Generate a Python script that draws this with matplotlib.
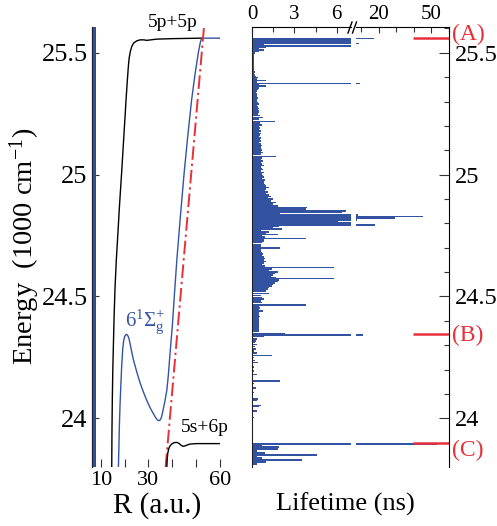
import matplotlib
matplotlib.use("Agg")
import matplotlib.pyplot as plt
from matplotlib.lines import Line2D

plt.rcParams['font.family'] = ['Liberation Serif', 'DejaVu Serif']
plt.rcParams['mathtext.fontset'] = 'custom'
plt.rcParams['mathtext.rm'] = 'Liberation Serif'
plt.rcParams['mathtext.it'] = 'Liberation Serif:italic'
plt.rcParams['mathtext.bf'] = 'Liberation Serif:bold'

# ---------------- data: potential curves (left panel) ----------------
pp_R = [14.6, 14.7, 14.85, 15.05, 15.3, 15.6, 16.0, 16.54, 17.2, 17.9, 18.7, 19.2, 19.77, 20.2, 20.6,
        21.1, 21.57, 21.9, 22.4, 23.0, 23.8, 25.1, 26.5, 28.0, 29.3, 31.0, 33.5, 40.4, 52.3]
pp_E = [23.80, 23.95, 24.08, 24.20, 24.30, 24.42, 24.54, 24.652, 24.762, 24.88, 25.0, 25.08, 25.172, 25.24,
        25.307, 25.38, 25.444, 25.478, 25.505, 25.526, 25.540, 25.549, 25.553, 25.553, 25.551, 25.553,
        25.556, 25.558, 25.56]

sig_R = [17.4, 17.6, 17.8, 18.1, 18.4, 18.8, 19.2, 19.6, 20.0, 20.5, 20.9, 21.4, 21.8, 22.3, 23.0, 23.7,
         24.4, 25.1, 26.5, 27.9, 29.3, 30.7, 32.0, 33.0, 33.8, 34.4, 34.9, 35.4, 35.8, 36.2, 36.9, 37.7,
         38.3, 39.0, 40.0, 40.9, 41.9, 43.4, 44.9, 46.5, 48.1, 49.5, 50.9, 51.7, 52.3, 60.0]
sig_E = [23.80, 23.88, 23.968, 24.06, 24.132, 24.22, 24.283, 24.318, 24.335, 24.343, 24.344, 24.338,
         24.328, 24.306, 24.272, 24.24, 24.215, 24.19, 24.145, 24.107, 24.073, 24.043, 24.02, 24.003,
         23.993, 23.99, 23.993, 24.003, 24.018, 24.037, 24.07, 24.115, 24.173, 24.26, 24.378, 24.51,
         24.65, 24.83, 25.0, 25.16, 25.307, 25.41, 25.5, 25.54, 25.56, 25.56]

asym_R = [37.2, 53.3]
asym_E = [23.80, 25.607]

sp_R = [37.7, 37.85, 38.1, 38.5, 39.0, 39.8, 40.8, 41.9, 42.8, 43.7, 44.6, 45.5, 46.4, 47.4, 50.0, 60.0]
sp_E = [23.80, 23.83, 23.857, 23.875, 23.886, 23.895, 23.90, 23.901, 23.897, 23.889, 23.885, 23.887,
        23.891, 23.894, 23.896, 23.896]

# ---------------- data: lifetimes (right panel) ----------------
energy = [25.559, 25.556, 25.552, 25.549, 25.545, 25.541, 25.538, 25.533, 25.527, 25.523, 25.517, 25.511, 25.505,
          25.498, 25.492, 25.486, 25.480, 25.474, 25.468, 25.462, 25.456, 25.450, 25.444, 25.438, 25.432, 25.426,
          25.420, 25.414, 25.408, 25.402, 25.398, 25.392, 25.387, 25.380, 25.374, 25.368, 25.363, 25.356, 25.350,
          25.344, 25.338, 25.332, 25.326, 25.320, 25.314, 25.308, 25.302, 25.296, 25.290, 25.284, 25.278, 25.272,
          25.266, 25.260, 25.254, 25.248, 25.242, 25.234, 25.228, 25.217, 25.211, 25.204,
          25.198, 25.192, 25.186, 25.180, 25.174, 25.168, 25.162, 25.156, 25.150, 25.144, 25.138, 25.132, 25.126,
          25.120, 25.114, 25.108, 25.102, 25.096, 25.090, 25.084, 25.074,
          25.068, 25.062, 25.056, 25.050, 25.044, 25.038, 25.032, 25.026, 25.020, 25.014, 25.008, 25.002, 24.996,
          24.990, 24.984, 24.978, 24.972, 24.966, 24.960, 24.954, 24.947,
          24.941, 24.935, 24.929, 24.923, 24.917, 24.911, 24.905,
          24.899, 24.892, 24.885, 24.879, 24.872, 24.865, 24.858, 24.851, 24.844, 24.840, 24.835, 24.831, 24.828,
          24.824, 24.821, 24.817, 24.813, 24.810, 24.807, 24.802, 24.798, 24.794, 24.790, 24.783, 24.776, 24.769,
          24.764, 24.759, 24.755, 24.749, 24.744, 24.738, 24.733, 24.728, 24.721, 24.714, 24.708, 24.703, 24.698,
          24.692, 24.686, 24.680, 24.674, 24.668, 24.662, 24.656, 24.650, 24.644, 24.638, 24.632, 24.626, 24.619,
          24.613, 24.607, 24.600, 24.594, 24.588, 24.582, 24.577, 24.573,
          24.567, 24.561, 24.555, 24.549, 24.543, 24.537, 24.530, 24.523, 24.512, 24.503, 24.496, 24.489, 24.482,
          24.475, 24.464, 24.458, 24.452, 24.446, 24.441, 24.435, 24.429, 24.423, 24.417, 24.411, 24.405, 24.399,
          24.393, 24.387, 24.381, 24.375, 24.369, 24.363, 24.357, 24.348, 24.341, 24.335, 24.325,
          24.318, 24.310, 24.302, 24.294, 24.285, 24.277, 24.268, 24.257, 24.249, 24.238, 24.229, 24.210, 24.195,
          24.179, 24.154, 24.142, 24.125, 24.105, 24.079, 24.074, 24.052, 24.048, 24.029, 24.004,
          23.895, 23.888, 23.881, 23.874, 23.865, 23.858, 23.850, 23.845, 23.836, 23.829, 23.820, 23.813]
lifetime = [17.4, 7.0, 7.0, 7.0, 5.6, 7.0, 8.5, 0.8, 7.0, 1.0, 0.5, 0.8, 0.5,
            0.2, 0.15, 0.1, 0.12, 0.1, 0.15, 0.1, 0.12, 0.1, 0.15, 0.12, 0.1, 0.15,
            0.2, 0.15, 0.2, 0.25, 0.4, 0.3, 1.0, 0.3, 9.0, 0.5, 1.0, 0.5, 0.4,
            0.3, 0.25, 0.3, 0.35, 0.3, 0.4, 0.35, 0.3, 0.4, 0.45, 0.35, 0.4, 0.5,
            0.4, 0.45, 0.5, 0.4, 0.55, 0.75, 0.5, 1.6, 0.55, 0.7,
            0.5, 0.55, 0.45, 0.6, 0.5, 0.6, 0.55, 0.5, 0.6, 0.55, 0.65, 0.5, 0.6,
            0.7, 0.6, 0.65, 0.7, 0.6, 0.75, 0.65, 1.7,
            0.7, 0.6, 0.75, 0.65, 0.7, 0.8, 0.6, 0.7, 0.75, 0.65, 0.8, 0.7, 0.75,
            0.85, 0.7, 0.9, 0.8, 0.85, 0.9, 1.0, 1.2,
            1.0, 0.9, 1.1, 1.0, 1.2, 1.3, 1.1,
            1.5, 1.3, 1.7, 1.5, 1.8, 3.9, 3.8, 6.7, 6.4, 2.0, 8.0, 7.0, 45.0,
            3.5, 29.0, 2.3, 7.5, 5.0, 6.1, 7.0, 6.0, 17.8, 1.9, 1.5, 2.1, 0.6,
            1.2, 1.0, 1.8, 0.7, 0.9, 3.8, 0.8, 0.8, 0.7, 0.6, 0.65, 0.6, 2.0,
            0.6, 0.65, 0.7, 0.75, 0.7, 0.8, 0.9, 0.85, 1.0, 0.8, 0.7, 0.9, 5.8,
            1.4, 1.2, 1.8, 1.6, 1.5, 1.3, 1.7, 5.8,
            1.9, 1.8, 1.6, 1.5, 1.4, 1.2, 1.1, 1.0, 1.2, 0.6, 0.7, 0.8, 0.6,
            0.7, 3.8, 0.5, 0.55, 0.5, 0.75, 0.5, 0.45, 0.5, 0.55, 0.5, 0.45, 0.5,
            0.5, 0.45, 0.5, 0.5, 0.45, 0.5, 0.45, 2.3, 11.0, 0.8, 0.3,
            0.25, 0.2, 0.3, 0.2, 0.25, 0.15, 0.3, 1.4, 0.15, 0.2, 0.4, 0.15, 0.1,
            0.35, 2.0, 0.1, 0.25, 0.15, 0.4, 0.35, 0.6, 0.5, 0.3, 0.15,
            53.0, 0.7, 1.9, 1.8, 0.3, 0.9, 4.6, 0.3, 0.7, 3.5, 1.0, 0.35]

state_labels = ['(A)', '(B)', '(C)']
state_E = [25.56, 24.344, 23.897]
state_label_E = [25.576, 24.34, 23.869]

ytick_vals = [24, 24.5, 25, 25.5]
ytick_labels = ['24', '24.5', '25', '25.5']
yminor_vals = [23.9, 24.1, 24.2, 24.3, 24.4, 24.6, 24.7, 24.8, 24.9, 25.1, 25.2, 25.3, 25.4, 25.6]

BLUE = '#3353a6'
BAR = '#3452a2'
RED = '#e8303a'
TICKC = '#333333'

W, H = 497, 526
fig = plt.figure(figsize=(W / 100, H / 100), dpi=100)

top_px, bot_px = 26.7, 467.0
b = 1 - bot_px / H
h = (bot_px - top_px) / H
ylim = (23.8, 25.607)

# ---------------- left panel ----------------
axL = fig.add_axes([91.7 / W, b, (220 - 91.7) / W, h])
axL.set_xlim(6.2, 60)
axL.set_ylim(*ylim)
axL.plot(pp_R, pp_E, color='black', lw=1.0)
axL.plot(sig_R, sig_E, color=BLUE, lw=1.0)
axL.plot(asym_R, asym_E, color=RED, lw=1.4, linestyle=(0, (7, 2, 1.2, 2)))
axL.plot(sp_R, sp_E, color='black', lw=1.0)
axL.axvline(6.8, color=BLUE, lw=2.3)
axL.axvline(7.4, color='#444444', lw=0.7)
for s in ['top', 'right', 'bottom']:
    axL.spines[s].set_visible(False)
axL.spines['left'].set_color('#222222')
axL.spines['left'].set_linewidth(0.9)
axL.set_yticks(ytick_vals)
axL.set_yticklabels(ytick_labels)
axL.set_yticks(yminor_vals, minor=True)
axL.tick_params(axis='y', which='major', direction='in', length=5, width=0.8, color=TICKC,
                labelsize=19, pad=3)
axL.tick_params(axis='y', which='minor', direction='in', length=2.5, width=0.8, color=TICKC)
axL.set_xticks([10, 30, 60])
axL.set_xticklabels(['10', '30', '60'])
axL.set_xticks([20, 40, 50], minor=True)
axL.tick_params(axis='x', which='both', direction='in', length=5.5, width=0.8, color=TICKC,
                labelsize=16, pad=3)
axL.text(40.3, 25.625, '5p+5p', fontsize=14, ha='center', va='center', clip_on=False)
axL.text(53.7, 23.962, '5s+6p', fontsize=14, ha='center', va='center', clip_on=False)
axL.text(28.8, 24.395, r'$\mathrm{6^{1}\Sigma_{g}^{+}}$', fontsize=15, color=BLUE,
         ha='center', va='center')

fig.text(25 / W, 1 - 246 / H, 'Energy  (1000 cm$^{-1}$)', rotation=90, fontsize=20.5,
         ha='center', va='center')
fig.text(157 / W, 1 - 506 / H, 'R (a.u.)', fontsize=21, ha='center', va='center')
fig.text(345 / W, 1 - 504 / H, 'Lifetime (ns)', fontsize=19, ha='center', va='center')

# ---------------- right panel (broken x axis) ----------------
axA = fig.add_axes([252.3 / W, b, 98.4 / W, h])
axB = fig.add_axes([356.0 / W, b, 93.0 / W, h])
for ax in (axA, axB):
    ax.barh(energy, lifetime, height=0.0063, color=BAR, linewidth=0, left=0)
    ax.set_ylim(*ylim)
    ax.xaxis.set_ticks_position('top')
    ax.xaxis.set_label_position('top')
    ax.spines['bottom'].set_visible(False)
    ax.tick_params(axis='x', which='both', direction='in', width=0.8, color=TICKC,
                   labelsize=15, pad=2)
    ax.tick_params(axis='x', which='major', length=4)
    ax.tick_params(axis='x', which='minor', length=3.5)

axA.set_xlim(0, 7)
axA.spines['right'].set_visible(False)
axA.spines['left'].set_color('#222222')
axA.set_xticks([0, 3, 6])
axA.set_xticklabels(['0', '3', '6'])
axA.set_xticks([1.5, 4.5], minor=True)
axA.set_yticks([])

axB.set_xlim(7, 60)
axB.spines['left'].set_visible(False)
axB.set_xticks([20, 50])
axB.set_xticklabels(['20', '50'])
axB.set_xticks([10, 30, 40, 60], minor=True)
axB.yaxis.set_ticks_position('right')
axB.set_yticks(ytick_vals)
axB.set_yticklabels(ytick_labels)
axB.set_yticks(yminor_vals, minor=True)
axB.tick_params(axis='y', which='major', direction='in', length=7, width=0.8, color=TICKC,
                labelsize=17.5, pad=4)
axB.tick_params(axis='y', which='minor', direction='in', length=3.6, width=0.8, color=TICKC)
axB.hlines(state_E, 39.5, 60, color=RED, lw=1.8, clip_on=False)
for lab, e in zip(state_labels, state_label_E):
    axB.text(1.03, e, lab, transform=axB.get_yaxis_transform(), color=RED, fontsize=17,
             ha='left', va='center', clip_on=False)

# break marks
for x0 in (348.0, 352.5):
    fig.add_artist(Line2D([x0 / W, (x0 + 4) / W], [1 - 33 / H, 1 - 22 / H],
                          color='black', lw=1.0, transform=fig.transFigure))

fig.savefig('out.png', dpi=100)
